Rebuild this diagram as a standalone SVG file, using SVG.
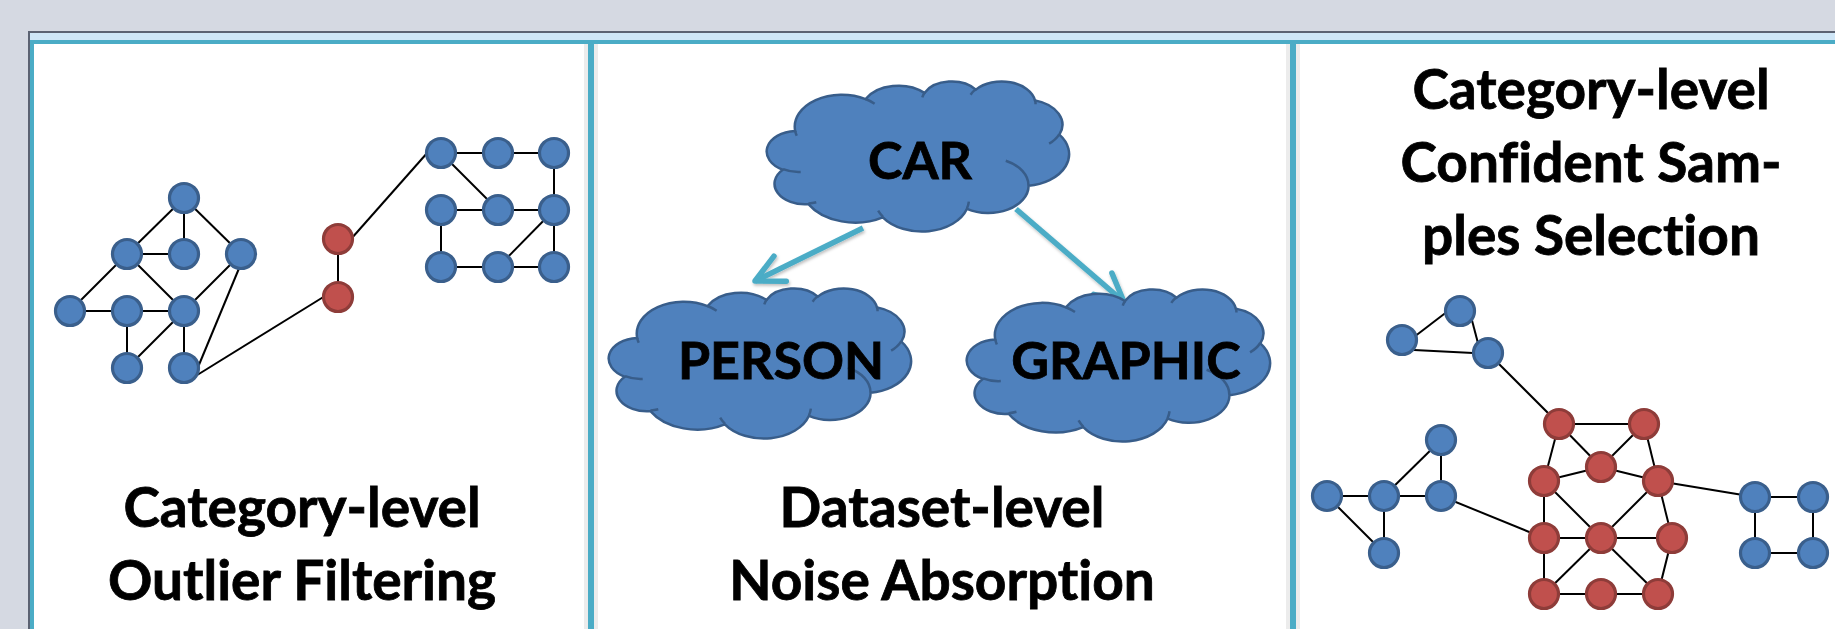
<svg xmlns="http://www.w3.org/2000/svg" xmlns:xlink="http://www.w3.org/1999/xlink" width="1835" height="629" viewBox="0 0 1835 629">
<style>
.e{stroke:#000;stroke-width:2;fill:none}
.b{fill:#4f81bd;stroke:#3a5f8c;stroke-width:3.2}
.r{fill:#c0504d;stroke:#8e3c39;stroke-width:3.2}
.t{font-family:Lato,"Liberation Sans",sans-serif;font-weight:700;font-size:55px;text-anchor:middle;fill:#000;stroke:#000;stroke-width:0.8;font-variant-ligatures:none;font-feature-settings:"liga" 0}
.ct{font-family:Lato,"Liberation Sans",sans-serif;font-weight:700;font-size:52px;text-anchor:middle;fill:#000;stroke:#000;stroke-width:0.8;font-variant-ligatures:none}
.co{fill:#4f81bd;stroke:#385d8a;stroke-width:2.5}
.ci{fill:none;stroke:#385d8a;stroke-width:2.5}
.ar{stroke:#4bacc6;stroke-width:5.5;fill:none}
</style>
<defs>
<path id="cloudOuter" vector-effect="non-scaling-stroke" d="M9.03,33.26 A15.63,21.27 0 0 1 32.42,12.04 A12.35,16.82 0 0 1 51.98,7.94 A10.10,13.76 0 0 1 69.06,5.74 A11.24,15.27 0 0 1 88.70,12.91 A12.35,16.84 0 0 1 96.80,35.79 A15.68,21.34 0 0 1 86.58,69.91 A13.39,18.21 0 0 1 66.10,85.22 A15.63,21.33 0 0 1 38.15,90.89 A17.87,24.41 0 0 1 13.44,82.11 A10.09,13.70 0 0 1 4.89,59.14 A10.06,13.76 0 0 1 9.03,33.26 Z"/>
<path id="cloudInner" vector-effect="non-scaling-stroke" d="M10.86,60.60 A10.06,13.76 0 0 1 5.00,58.75 M16.04,80.78 A10.09,13.70 0 0 1 13.47,81.67 M38.14,90.49 A15.63,21.33 0 0 1 36.60,86.46 M66.73,80.44 A15.63,21.33 0 0 1 66.11,84.86 M79.00,53.13 A13.39,18.21 0 0 1 86.53,69.65 M96.75,35.54 A12.35,16.84 0 0 1 93.40,41.73 M88.71,12.56 A11.24,15.27 0 0 1 88.89,15.49 M67.31,9.15 A11.24,15.27 0 0 1 69.03,5.42 M51.25,10.93 A10.10,13.76 0 0 1 52.08,7.71 M32.41,12.02 A15.63,21.27 0 0 1 35.42,15.14 M9.55,36.55 A15.63,21.27 0 0 1 9.03,33.26"/>
<marker id="arrow" markerUnits="userSpaceOnUse" markerWidth="60" markerHeight="60" viewBox="-40 -30 60 60" refX="0" refY="0" orient="auto" overflow="visible">
<path d="M-28,-14 L0,0 L-28,14" fill="none" stroke="#4bacc6" stroke-width="5.5" stroke-linejoin="round" stroke-linecap="round"/>
</marker>
<filter id="sh" x="-20%" y="-20%" width="140%" height="140%">
<feDropShadow dx="1" dy="2" stdDeviation="1.5" flood-color="#000" flood-opacity="0.25"/>
</filter>
</defs>

<!-- frame -->
<rect x="0" y="0" width="1835" height="629" fill="#d5d9e2"/>
<rect x="28" y="31" width="1810" height="600" fill="#5b6272"/>
<rect x="30" y="33" width="1808" height="600" fill="#cfe6f7"/>
<rect x="34" y="44" width="1805" height="590" fill="#ffffff"/>
<rect x="584" y="44" width="4" height="590" fill="#ececec"/>
<rect x="594" y="44" width="4" height="590" fill="#ececec"/>
<rect x="1286" y="44" width="4" height="590" fill="#ececec"/>
<rect x="1296" y="44" width="4" height="590" fill="#ececec"/>
<rect x="30" y="40" width="1805" height="4" fill="#4bacc6"/>
<rect x="30" y="40" width="4" height="590" fill="#4bacc6"/>
<rect x="588" y="40" width="6" height="590" fill="#4bacc6"/>
<rect x="1290" y="40" width="6" height="590" fill="#4bacc6"/>

<g id="connectors">
<!-- panel 1 -->
<line class="e" x1="184" y1="198" x2="127" y2="254"/>
<line class="e" x1="184" y1="198" x2="184" y2="254"/>
<line class="e" x1="184" y1="198" x2="241" y2="254"/>
<line class="e" x1="127" y1="254" x2="184" y2="254"/>
<line class="e" x1="127" y1="254" x2="70" y2="311"/>
<line class="e" x1="127" y1="254" x2="184" y2="311"/>
<line class="e" x1="70" y1="311" x2="127" y2="311"/>
<line class="e" x1="127" y1="311" x2="184" y2="311"/>
<line class="e" x1="127" y1="311" x2="127" y2="368"/>
<line class="e" x1="184" y1="311" x2="127" y2="368"/>
<line class="e" x1="184" y1="311" x2="184" y2="368"/>
<line class="e" x1="184" y1="311" x2="241" y2="254"/>
<line class="e" x1="240" y1="266" x2="196" y2="372"/>
<line class="e" x1="194" y1="377" x2="325" y2="296"/>
<line class="e" x1="338" y1="239" x2="338" y2="297"/>
<line class="e" x1="351" y1="239" x2="428" y2="152"/>
<line class="e" x1="441" y1="153" x2="498" y2="153"/>
<line class="e" x1="498" y1="153" x2="554" y2="153"/>
<line class="e" x1="441" y1="153" x2="498" y2="210"/>
<line class="e" x1="554" y1="153" x2="554" y2="210"/>
<line class="e" x1="441" y1="210" x2="498" y2="210"/>
<line class="e" x1="498" y1="210" x2="554" y2="210"/>
<line class="e" x1="441" y1="210" x2="441" y2="267"/>
<line class="e" x1="554" y1="210" x2="554" y2="267"/>
<line class="e" x1="554" y1="210" x2="498" y2="267"/>
<line class="e" x1="441" y1="267" x2="498" y2="267"/>
<line class="e" x1="498" y1="267" x2="554" y2="267"/>
<!-- panel 2 arrows -->
<g filter="url(#sh)">
<line class="ar" x1="863" y1="228" x2="755" y2="281" marker-end="url(#arrow)"/>
<line class="ar" x1="1016" y1="209" x2="1124" y2="302" marker-end="url(#arrow)"/>
</g>
<!-- panel 3 -->
<line class="e" x1="1414" y1="337" x2="1448" y2="311"/>
<line class="e" x1="1469" y1="309" x2="1479" y2="347"/>
<line class="e" x1="1414" y1="350" x2="1473" y2="353"/>
<line class="e" x1="1488" y1="353" x2="1559" y2="424"/>
<line class="e" x1="1327" y1="496" x2="1384" y2="496"/>
<line class="e" x1="1384" y1="496" x2="1441" y2="496"/>
<line class="e" x1="1384" y1="496" x2="1441" y2="440"/>
<line class="e" x1="1441" y1="440" x2="1441" y2="496"/>
<line class="e" x1="1327" y1="496" x2="1384" y2="553"/>
<line class="e" x1="1384" y1="496" x2="1384" y2="553"/>
<line class="e" x1="1441" y1="496" x2="1544" y2="538"/>
<line class="e" x1="1559" y1="424" x2="1644" y2="424"/>
<line class="e" x1="1559" y1="424" x2="1544" y2="481"/>
<line class="e" x1="1559" y1="424" x2="1601" y2="467"/>
<line class="e" x1="1644" y1="424" x2="1601" y2="467"/>
<line class="e" x1="1644" y1="424" x2="1658" y2="481"/>
<line class="e" x1="1601" y1="467" x2="1544" y2="481"/>
<line class="e" x1="1601" y1="467" x2="1658" y2="481"/>
<line class="e" x1="1544" y1="481" x2="1544" y2="538"/>
<line class="e" x1="1544" y1="481" x2="1601" y2="538"/>
<line class="e" x1="1658" y1="481" x2="1601" y2="538"/>
<line class="e" x1="1658" y1="481" x2="1672" y2="538"/>
<line class="e" x1="1658" y1="481" x2="1755" y2="497"/>
<line class="e" x1="1544" y1="538" x2="1601" y2="538"/>
<line class="e" x1="1601" y1="538" x2="1672" y2="538"/>
<line class="e" x1="1544" y1="538" x2="1544" y2="594"/>
<line class="e" x1="1601" y1="538" x2="1544" y2="594"/>
<line class="e" x1="1601" y1="538" x2="1658" y2="594"/>
<line class="e" x1="1672" y1="538" x2="1658" y2="594"/>
<line class="e" x1="1544" y1="594" x2="1601" y2="594"/>
<line class="e" x1="1601" y1="594" x2="1658" y2="594"/>
<line class="e" x1="1755" y1="497" x2="1813" y2="497"/>
<line class="e" x1="1755" y1="497" x2="1755" y2="553"/>
<line class="e" x1="1813" y1="497" x2="1813" y2="553"/>
<line class="e" x1="1755" y1="553" x2="1813" y2="553"/>
</g>

<!-- panel 1 nodes -->
<g id="p1-a"><circle class="b" cx="184" cy="198" r="14.5"/></g>
<g id="p1-b"><circle class="b" cx="127" cy="254" r="14.5"/></g>
<g id="p1-c"><circle class="b" cx="184" cy="254" r="14.5"/></g>
<g id="p1-d"><circle class="b" cx="241" cy="254" r="14.5"/></g>
<g id="p1-e"><circle class="b" cx="70" cy="311" r="14.5"/></g>
<g id="p1-f"><circle class="b" cx="127" cy="311" r="14.5"/></g>
<g id="p1-g"><circle class="b" cx="184" cy="311" r="14.5"/></g>
<g id="p1-h"><circle class="b" cx="127" cy="368" r="14.5"/></g>
<g id="p1-i"><circle class="b" cx="184" cy="368" r="14.5"/></g>
<g id="p1-r1"><circle class="r" cx="338" cy="239" r="14.5"/></g>
<g id="p1-r2"><circle class="r" cx="338" cy="297" r="14.5"/></g>
<g id="p1-j1"><circle class="b" cx="441" cy="153" r="14.5"/></g>
<g id="p1-j2"><circle class="b" cx="498" cy="153" r="14.5"/></g>
<g id="p1-j3"><circle class="b" cx="554" cy="153" r="14.5"/></g>
<g id="p1-k1"><circle class="b" cx="441" cy="210" r="14.5"/></g>
<g id="p1-k2"><circle class="b" cx="498" cy="210" r="14.5"/></g>
<g id="p1-k3"><circle class="b" cx="554" cy="210" r="14.5"/></g>
<g id="p1-m1"><circle class="b" cx="441" cy="267" r="14.5"/></g>
<g id="p1-m2"><circle class="b" cx="498" cy="267" r="14.5"/></g>
<g id="p1-m3"><circle class="b" cx="554" cy="267" r="14.5"/></g>

<g id="title-1">
<text class="t" x="302" y="527">Category-level</text>
<text class="t" x="302" y="600">Outlier Filtering</text>
</g>

<!-- panel 2 clouds -->
<g id="cloud-car">
<g transform="translate(768,81) scale(3.01,1.50)"><use href="#cloudOuter" class="co"/><use href="#cloudInner" class="ci"/></g>
<text class="ct" x="920" y="179">CAR</text>
</g>
<g id="cloud-person">
<g transform="translate(610,288) scale(3.01,1.50)"><use href="#cloudOuter" class="co"/><use href="#cloudInner" class="ci"/></g>
<text class="ct" x="781" y="379">PERSON</text>
</g>
<g id="cloud-graphic">
<g transform="translate(968,289) scale(3.02,1.52)"><use href="#cloudOuter" class="co"/><use href="#cloudInner" class="ci"/></g>
<text class="ct" x="1126" y="379">GRAPHIC</text>
</g>

<g id="title-2">
<text class="t" x="942" y="527">Dataset-level</text>
<text class="t" x="942" y="600">Noise Absorption</text>
</g>

<!-- panel 3 nodes -->
<g id="p3-t1"><circle class="b" cx="1402" cy="340" r="14.5"/></g>
<g id="p3-t2"><circle class="b" cx="1460" cy="311" r="14.5"/></g>
<g id="p3-t3"><circle class="b" cx="1488" cy="353" r="14.5"/></g>
<g id="p3-l1"><circle class="b" cx="1441" cy="440" r="14.5"/></g>
<g id="p3-l2"><circle class="b" cx="1327" cy="496" r="14.5"/></g>
<g id="p3-l3"><circle class="b" cx="1384" cy="496" r="14.5"/></g>
<g id="p3-l4"><circle class="b" cx="1441" cy="496" r="14.5"/></g>
<g id="p3-l5"><circle class="b" cx="1384" cy="553" r="14.5"/></g>
<g id="p3-r1"><circle class="r" cx="1559" cy="424" r="14.5"/></g>
<g id="p3-r2"><circle class="r" cx="1644" cy="424" r="14.5"/></g>
<g id="p3-r3"><circle class="r" cx="1601" cy="467" r="14.5"/></g>
<g id="p3-r4"><circle class="r" cx="1544" cy="481" r="14.5"/></g>
<g id="p3-r5"><circle class="r" cx="1658" cy="481" r="14.5"/></g>
<g id="p3-r6"><circle class="r" cx="1544" cy="538" r="14.5"/></g>
<g id="p3-r7"><circle class="r" cx="1601" cy="538" r="14.5"/></g>
<g id="p3-r8"><circle class="r" cx="1672" cy="538" r="14.5"/></g>
<g id="p3-r9"><circle class="r" cx="1544" cy="594" r="14.5"/></g>
<g id="p3-r10"><circle class="r" cx="1601" cy="594" r="14.5"/></g>
<g id="p3-r11"><circle class="r" cx="1658" cy="594" r="14.5"/></g>
<g id="p3-s1"><circle class="b" cx="1755" cy="497" r="14.5"/></g>
<g id="p3-s2"><circle class="b" cx="1813" cy="497" r="14.5"/></g>
<g id="p3-s3"><circle class="b" cx="1755" cy="553" r="14.5"/></g>
<g id="p3-s4"><circle class="b" cx="1813" cy="553" r="14.5"/></g>

<g id="title-3">
<text class="t" x="1591" y="109">Category-level</text>
<text class="t" x="1591" y="182">Confident Sam-</text>
<text class="t" x="1591" y="255">ples Selection</text>
</g>
</svg>
